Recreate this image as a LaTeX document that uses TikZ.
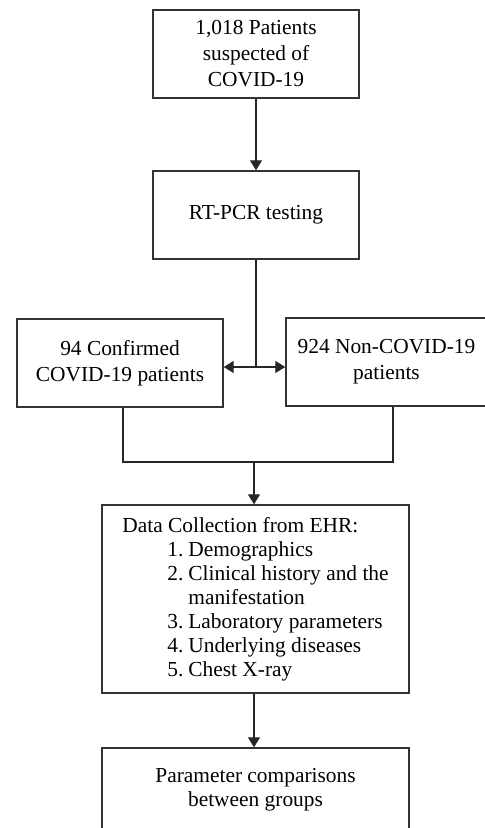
\documentclass[tikz,border=0pt]{standalone}
\usepackage{fontspec}
\setmainfont{Liberation Serif}
\usetikzlibrary{arrows.meta,positioning}
\tikzset{box/.style={draw=black!80, line width=0.7pt, align=center,
    inner sep=2pt, font=\fontsize{10.7}{13}\selectfont},
  arr/.style={-{Triangle[length=5pt,width=6pt]}, line width=0.6pt, draw=black!85},
  lin/.style={line width=0.6pt, draw=black!85}}
\newcommand{\itm}[2]{\hspace*{22.5pt}\makebox[10.5pt][l]{#1.}#2}

\begin{document}
\begin{tikzpicture}[x=0.5pt, y=-0.5pt]

    \useasboundingbox (0,0) rectangle (485,828);

    %Boxen
    \node[box, minimum width=103pt, minimum height=44pt] (susp) at (256,54)
        {1,018 Patients\\suspected of\\COVID-19};
    \node[box, minimum width=103pt, minimum height=44pt] (rtpcr) at (256,215)
        {RT-PCR testing};
    \node[box, minimum width=103pt, minimum height=44pt] (conf) at (120,363)
        {94 Confirmed\\COVID-19 patients};
    \node[box, minimum width=100.5pt, minimum height=44pt] (nonc) at (386.5,362)
        {924 Non-COVID-19\\patients};
    \node[box, align=left, minimum width=153.5pt, minimum height=94pt,
        font=\fontsize{10.7}{12}\selectfont] (data) at (255.5,599)
        {Data Collection from EHR:\\
         \itm{1}{Demographics}\\
         \itm{2}{Clinical history and the}\\
         \hspace*{33pt}manifestation\\
         \itm{3}{Laboratory parameters}\\
         \itm{4}{Underlying diseases}\\
         \itm{5}{Chest X-ray}};
    \node[box, minimum width=153.5pt, minimum height=42pt,
        font=\fontsize{10.7}{12}\selectfont] (param) at (255.5,790)
        {Parameter comparisons\\between groups};

    %Punkte
    \coordinate (split) at (256,367);
    \coordinate (jl) at (123,462);
    \coordinate (jr) at (393,462);
    \coordinate (jm) at (254,462);

    %Pfeile
    \draw[arr] (susp) -- (rtpcr);
    \draw[lin] (rtpcr.south) -- (split);
    \draw[arr] (split) -- (split -| conf.east);
    \draw[arr] (split) -- (split -| nonc.west);
    \draw[lin] (conf.south -| jl) -- (jl) -- (jr) -- (nonc.south -| jr);
    \draw[arr] (jm) -- (jm |- data.north);
    \draw[arr] (data.south -| jm) -- (jm |- param.north);

\end{tikzpicture}
\end{document}
